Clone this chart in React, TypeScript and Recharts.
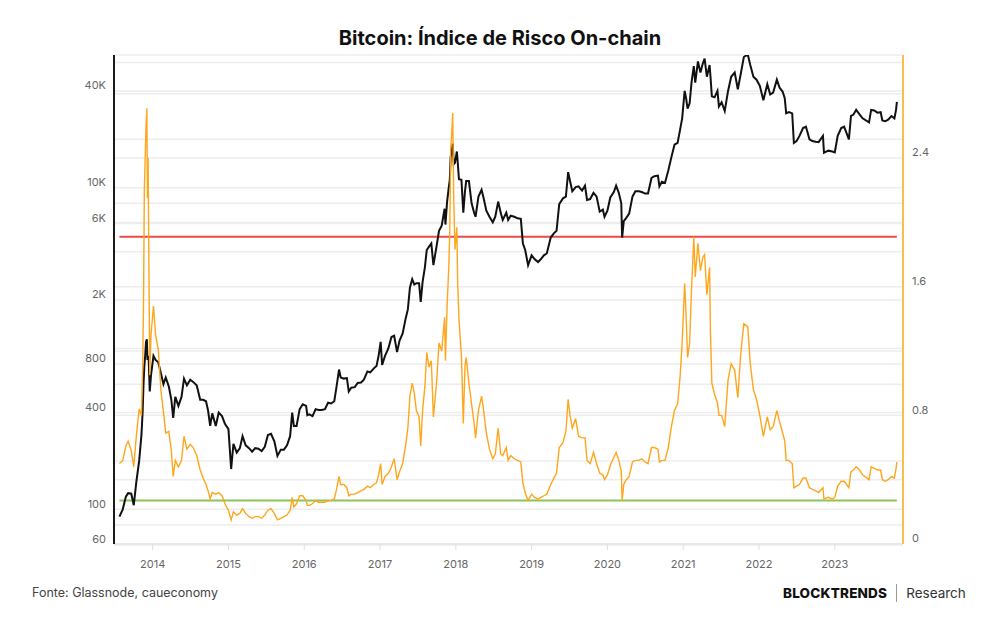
import { LineChart, Line, XAxis, YAxis, CartesianGrid, ReferenceLine } from 'recharts'

// BTC price (USD, log axis) and the on-chain risk index, roughly twice a month
const DATES = [
  '2013-07-25', '2013-08-10', '2013-08-25', '2013-09-05', '2013-09-20', '2013-10-02', '2013-10-15', '2013-10-28',
  '2013-11-08', '2013-11-14', '2013-11-18', '2013-11-22', '2013-11-26', '2013-11-30', '2013-12-04', '2013-12-07',
  '2013-12-10', '2013-12-13', '2013-12-18', '2013-12-24', '2014-01-05', '2014-01-15', '2014-01-28', '2014-02-10',
  '2014-02-22', '2014-03-05', '2014-03-20', '2014-04-01', '2014-04-10', '2014-04-20', '2014-05-05', '2014-05-20',
  '2014-06-01', '2014-06-15', '2014-07-01', '2014-07-15', '2014-08-01', '2014-08-18', '2014-09-01', '2014-09-15',
  '2014-09-25', '2014-10-05', '2014-10-15', '2014-11-01', '2014-11-15', '2014-12-01', '2014-12-15', '2015-01-01',
  '2015-01-14', '2015-01-25', '2015-02-10', '2015-02-25', '2015-03-10', '2015-03-25', '2015-04-10', '2015-04-25',
  '2015-05-10', '2015-05-25', '2015-06-10', '2015-06-25', '2015-07-10', '2015-07-25', '2015-08-10', '2015-08-25',
  '2015-09-10', '2015-09-25', '2015-10-10', '2015-10-25', '2015-11-04', '2015-11-12', '2015-11-25', '2015-12-10',
  '2015-12-25', '2016-01-10', '2016-01-16', '2016-01-25', '2016-02-10', '2016-02-25', '2016-03-10', '2016-03-25',
  '2016-04-10', '2016-04-25', '2016-05-10', '2016-05-25', '2016-06-05', '2016-06-17', '2016-06-25', '2016-07-10',
  '2016-07-25', '2016-08-03', '2016-08-15', '2016-09-01', '2016-09-15', '2016-10-01', '2016-10-15', '2016-11-01',
  '2016-11-15', '2016-12-01', '2016-12-15', '2016-12-25', '2017-01-04', '2017-01-11', '2017-01-25', '2017-02-10',
  '2017-02-25', '2017-03-10', '2017-03-24', '2017-04-05', '2017-04-20', '2017-05-05', '2017-05-15', '2017-05-25',
  '2017-06-05', '2017-06-15', '2017-06-25', '2017-07-08', '2017-07-16', '2017-07-25', '2017-08-05', '2017-08-14',
  '2017-08-25', '2017-09-05', '2017-09-15', '2017-09-30', '2017-10-12', '2017-10-25', '2017-11-08', '2017-11-12',
  '2017-11-20', '2017-11-28', '2017-12-03', '2017-12-07', '2017-12-12', '2017-12-17', '2017-12-22', '2017-12-28',
  '2018-01-06', '2018-01-10', '2018-01-16', '2018-01-28', '2018-02-06', '2018-02-14', '2018-02-20', '2018-03-05',
  '2018-03-18', '2018-03-30', '2018-04-06', '2018-04-20', '2018-05-05', '2018-05-15', '2018-05-28', '2018-06-12',
  '2018-06-28', '2018-07-10', '2018-07-24', '2018-08-05', '2018-08-15', '2018-09-01', '2018-09-10', '2018-09-22',
  '2018-10-10', '2018-10-25', '2018-11-10', '2018-11-20', '2018-12-01', '2018-12-15', '2019-01-01', '2019-01-15',
  '2019-02-01', '2019-02-15', '2019-03-01', '2019-03-15', '2019-04-03', '2019-04-18', '2019-05-01', '2019-05-14',
  '2019-06-01', '2019-06-15', '2019-06-26', '2019-07-05', '2019-07-16', '2019-08-01', '2019-08-15', '2019-09-01',
  '2019-09-15', '2019-09-25', '2019-10-10', '2019-10-26', '2019-11-10', '2019-11-25', '2019-12-10', '2019-12-18',
  '2020-01-01', '2020-01-15', '2020-02-01', '2020-02-12', '2020-02-25', '2020-03-08', '2020-03-12', '2020-03-20',
  '2020-04-01', '2020-04-15', '2020-05-01', '2020-05-15', '2020-06-01', '2020-06-15', '2020-07-01', '2020-07-15',
  '2020-08-01', '2020-08-15', '2020-09-01', '2020-09-08', '2020-09-20', '2020-10-05', '2020-10-21', '2020-11-05',
  '2020-11-20', '2020-12-05', '2020-12-17', '2020-12-27', '2021-01-08', '2021-01-15', '2021-01-22', '2021-02-01',
  '2021-02-10', '2021-02-21', '2021-02-28', '2021-03-13', '2021-03-25', '2021-04-05', '2021-04-14', '2021-04-25',
  '2021-05-08', '2021-05-12', '2021-05-19', '2021-06-01', '2021-06-15', '2021-06-22', '2021-07-05', '2021-07-20',
  '2021-08-05', '2021-08-20', '2021-09-06', '2021-09-21', '2021-10-05', '2021-10-20', '2021-11-08', '2021-11-20',
  '2021-12-05', '2021-12-20', '2022-01-05', '2022-01-22', '2022-02-10', '2022-02-24', '2022-03-10', '2022-03-28',
  '2022-04-10', '2022-04-25', '2022-05-05', '2022-05-12', '2022-05-25', '2022-06-10', '2022-06-18', '2022-07-01',
  '2022-07-15', '2022-08-01', '2022-08-15', '2022-09-01', '2022-09-15', '2022-10-01', '2022-10-15', '2022-11-05',
  '2022-11-10', '2022-12-01', '2022-12-20', '2023-01-01', '2023-01-15', '2023-02-01', '2023-02-15', '2023-03-10',
  '2023-03-20', '2023-04-01', '2023-04-14', '2023-05-01', '2023-05-15', '2023-06-15', '2023-06-25', '2023-07-10',
  '2023-07-25', '2023-08-10', '2023-08-18', '2023-09-01', '2023-09-15', '2023-10-01', '2023-10-15', '2023-10-23',
  '2023-10-27',
]

const PRICE = [
  90, 100, 120, 126, 125, 106, 150, 200,
  290, 410, 600, 780, 900, 1100, 1140, 850,
  900, 850, 540, 680, 900, 850, 820, 700,
  600, 660, 580, 480, 370, 500, 440, 500,
  650, 590, 640, 620, 590, 480, 480, 470,
  410, 330, 395, 330, 400, 380, 340, 315,
  178, 255, 225, 240, 285, 250, 240, 228,
  240, 238, 230, 245, 290, 295, 265, 215,
  235, 235, 250, 285, 400, 330, 330, 420,
  450, 440, 385, 390, 380, 420, 415, 415,
  420, 460, 455, 470, 580, 740, 660, 650,
  655, 540, 570, 575, 610, 615, 640, 720,
  710, 750, 780, 900, 1100, 790, 900, 1000,
  1180, 1200, 950, 1120, 1240, 1550, 1750, 2400,
  2700, 2500, 2550, 2550, 1950, 2600, 3200, 4100,
  4300, 4500, 3300, 4300, 5400, 5800, 7400, 5900,
  8200, 10000, 11200, 15500, 16800, 18800, 14000, 14300,
  16800, 14500, 11300, 11200, 7000, 9500, 11000, 11000,
  8000, 7000, 6600, 8800, 9700, 8600, 7200, 6600,
  6100, 6600, 8200, 7000, 6300, 7000, 6300, 6700,
  6600, 6450, 6400, 4500, 4100, 3300, 3800, 3600,
  3450, 3600, 3800, 3900, 4900, 5200, 5400, 7900,
  8600, 8800, 12500, 11000, 9500, 10100, 10200, 9600,
  10300, 8400, 8500, 9300, 8800, 7100, 7300, 6600,
  7200, 8700, 9400, 10300, 9300, 8000, 4900, 6200,
  6500, 6900, 8800, 9500, 9500, 9400, 9200, 9200,
  11500, 11800, 11900, 10200, 10900, 10700, 12800, 15500,
  18500, 19000, 23000, 27000, 40000, 36000, 31000, 33500,
  45000, 57000, 45000, 61000, 52000, 59000, 63500, 49000,
  58000, 50000, 37000, 36500, 40000, 32000, 34000, 30000,
  40000, 49000, 52000, 41000, 51000, 65000, 67500, 58000,
  49000, 47000, 43000, 35000, 44000, 38000, 39000, 47000,
  42000, 39500, 36000, 29000, 29500, 29000, 19000, 19500,
  21000, 23500, 24000, 20000, 19500, 19300, 19200, 21000,
  16500, 17000, 16800, 16600, 21000, 23500, 24000, 20000,
  28000, 28500, 30500, 28500, 27000, 25500, 30500, 30200,
  29300, 29500, 26200, 25900, 26500, 27900, 27000, 30500,
  34200,
]

const RISK = [
  0.50, 0.52, 0.61, 0.64, 0.58, 0.48, 0.68, 0.84,
  0.80, 1.10, 1.50, 2.20, 2.40, 2.60, 2.71, 2.15,
  2.40, 1.90, 1.05, 1.30, 1.48, 1.30, 1.21, 0.95,
  0.82, 0.69, 0.70, 0.58, 0.42, 0.52, 0.48, 0.52,
  0.67, 0.59, 0.62, 0.60, 0.55, 0.46, 0.41, 0.37,
  0.33, 0.28, 0.32, 0.31, 0.32, 0.30, 0.25, 0.21,
  0.15, 0.20, 0.18, 0.19, 0.22, 0.19, 0.17, 0.16,
  0.17, 0.17, 0.16, 0.18, 0.21, 0.22, 0.19, 0.15,
  0.16, 0.17, 0.18, 0.21, 0.29, 0.23, 0.25, 0.30,
  0.30, 0.27, 0.24, 0.24, 0.25, 0.27, 0.26, 0.26,
  0.26, 0.27, 0.27, 0.28, 0.34, 0.42, 0.37, 0.37,
  0.35, 0.30, 0.31, 0.31, 0.32, 0.33, 0.34, 0.36,
  0.35, 0.37, 0.38, 0.43, 0.50, 0.37, 0.42, 0.44,
  0.48, 0.53, 0.40, 0.45, 0.50, 0.62, 0.72, 0.92,
  1.00, 0.94, 0.83, 0.79, 0.61, 0.83, 0.98, 1.19,
  1.10, 1.14, 0.79, 1.00, 1.25, 1.20, 1.41, 1.14,
  1.48, 1.72, 1.95, 2.45, 2.55, 2.68, 2.14, 1.83,
  1.97, 1.62, 1.40, 1.17, 0.75, 1.10, 1.16, 1.00,
  0.87, 0.75, 0.66, 0.83, 0.92, 0.83, 0.69, 0.59,
  0.53, 0.56, 0.72, 0.56, 0.55, 0.60, 0.52, 0.55,
  0.53, 0.52, 0.51, 0.38, 0.32, 0.27, 0.31, 0.29,
  0.28, 0.29, 0.30, 0.31, 0.37, 0.41, 0.44, 0.60,
  0.63, 0.70, 0.90, 0.80, 0.72, 0.78, 0.67, 0.66,
  0.66, 0.52, 0.50, 0.57, 0.50, 0.44, 0.43, 0.40,
  0.43, 0.49, 0.54, 0.57, 0.52, 0.45, 0.27, 0.37,
  0.40, 0.42, 0.51, 0.52, 0.52, 0.53, 0.51, 0.50,
  0.60, 0.60, 0.59, 0.51, 0.52, 0.52, 0.60, 0.73,
  0.83, 0.87, 1.04, 1.25, 1.62, 1.42, 1.16, 1.25,
  1.58, 1.91, 1.66, 1.87, 1.70, 1.78, 1.80, 1.55,
  1.72, 1.33, 1.00, 0.93, 0.88, 0.80, 0.80, 0.73,
  1.02, 1.12, 1.08, 0.91, 1.18, 1.37, 1.35, 1.12,
  0.96, 0.90, 0.80, 0.67, 0.79, 0.71, 0.73, 0.83,
  0.76, 0.69, 0.64, 0.52, 0.52, 0.50, 0.35, 0.36,
  0.37, 0.41, 0.41, 0.35, 0.34, 0.33, 0.32, 0.35,
  0.28, 0.29, 0.28, 0.29, 0.36, 0.39, 0.39, 0.35,
  0.45, 0.46, 0.48, 0.46, 0.43, 0.40, 0.48, 0.47,
  0.46, 0.46, 0.40, 0.39, 0.40, 0.42, 0.41, 0.47,
  0.51,
]

const YEAR_TICKS = [2014, 2015, 2016, 2017, 2018, 2019, 2020, 2021, 2022, 2023]
const PRICE_GRID = [60, 80, 100, 200, 400, 600, 800, 1000, 2000, 4000, 6000, 8000, 10000, 20000, 40000, 60000]
const PRICE_LABELS = [60, 100, 400, 800, 2000, 6000, 10000, 40000]
const RISK_GRID = [0.4, 0.8, 1.2, 1.6, 2.0, 2.4, 2.8]
const RISK_TICKS = [0, 0.8, 1.6, 2.4]
const RISK_HIGH = 1.91
const RISK_LOW = 0.27

// date string -> fractional year, so the axis can tick on Jan 1st
const toYear = (s: string) => {
  const [y, m, d] = s.split('-').map(Number)
  const start = Date.UTC(y, 0, 1)
  return y + (Date.UTC(y, m - 1, d) - start) / (Date.UTC(y + 1, 0, 1) - start)
}

const data = DATES.map((d, i) => ({ t: toYear(d), price: PRICE[i], risk: RISK[i] }))
const T0 = data[0].t
const T1 = data[data.length - 1].t

const FONT = 'Inter, "Noto Sans", sans-serif'
const TICK_COLOR = '#666'
const GRID = '#ededed'

const fmtPrice = (v: number) => (v >= 1000 ? `${v / 1000}K` : `${v}`)

const PriceTick = ({ x, y, payload }: any) => {
  if (!PRICE_LABELS.includes(payload.value)) return <g />
  return (
    <text x={x} y={y - 5.5} dy="0.35em" textAnchor="end" fontSize={11} fill={TICK_COLOR} fontFamily={FONT}>
      {fmtPrice(payload.value)}
    </text>
  )
}

const RiskTick = ({ x, y, payload }: any) => (
  <text x={x} y={y - 5.5} dy="0.35em" textAnchor="start" fontSize={11} fill={TICK_COLOR} fontFamily={FONT}>
    {payload.value}
  </text>
)

const YearTick = ({ x, y, payload }: any) => (
  <text x={x} y={y} dy="0.71em" textAnchor="middle" fontSize={11} fill={TICK_COLOR} fontFamily={FONT}>
    {payload.value}
  </text>
)

export default function App() {
  return (
    <div style={{ position: 'absolute', left: 0, top: 0, width: 1000, height: 630, background: '#fff', fontFamily: FONT }}>
      <div style={{ position: 'absolute', top: 26, left: 0, width: 1000, textAlign: 'center', fontSize: 20, fontWeight: 700, color: '#111' }}>
        Bitcoin: Índice de Risco On-chain
      </div>

      <LineChart width={1000} height={630} data={data} margin={{ top: 55, right: 37, bottom: 46, left: 54 }}>
        <CartesianGrid yAxisId="price" vertical={false} stroke={GRID} strokeWidth={1.5} />
        {RISK_GRID.map((v) => (
          <ReferenceLine key={v} yAxisId="risk" y={v} stroke={GRID} strokeWidth={1.5} />
        ))}
        <XAxis
          dataKey="t"
          type="number"
          domain={[2013.49, 2023.9]}
          ticks={YEAR_TICKS}
          allowDataOverflow
          height={40}
          axisLine={{ stroke: '#e6e6e6', strokeWidth: 1.5 }}
          tickLine={{ stroke: '#e0e0e0' }}
          tickSize={6}
          tickMargin={10}
          tick={<YearTick />}
        />
        <YAxis
          yAxisId="price"
          scale="log"
          domain={[60.85, 66900]}
          ticks={PRICE_GRID}
          interval={0}
          allowDataOverflow
          width={60}
          axisLine={{ stroke: '#1a1a1a', strokeWidth: 2 }}
          tickLine={false}
          tickSize={0}
          tickMargin={8}
          tick={<PriceTick />}
        />
        <YAxis
          yAxisId="risk"
          orientation="right"
          domain={[0, 3.041]}
          ticks={RISK_TICKS}
          interval={0}
          allowDataOverflow
          width={60}
          axisLine={{ stroke: '#fbbd4f', strokeWidth: 2 }}
          tickLine={false}
          tickSize={0}
          tickMargin={9}
          tick={<RiskTick />}
        />
        <ReferenceLine yAxisId="risk" segment={[{ x: T0, y: RISK_HIGH }, { x: T1, y: RISK_HIGH }]} stroke="#ea4a4a" strokeWidth={2} />
        <ReferenceLine yAxisId="risk" segment={[{ x: T0, y: RISK_LOW }, { x: T1, y: RISK_LOW }]} stroke="#8cc45a" strokeWidth={2} />
        <Line yAxisId="price" dataKey="price" stroke="#111" strokeWidth={2} dot={false} isAnimationActive={false} />
        <Line yAxisId="risk" dataKey="risk" stroke="#ffa61c" strokeWidth={1.4} dot={false} isAnimationActive={false} />
      </LineChart>

      <div style={{ position: 'absolute', top: 585, left: 32, fontSize: 12.5, color: '#444' }}>
        Fonte: Glassnode, caueconomy
      </div>
      <div style={{ position: 'absolute', top: 584, left: 783, display: 'flex', alignItems: 'center', fontSize: 13.5, color: '#111' }}>
        <span style={{ fontWeight: 800, letterSpacing: 0.2 }}>BLOCKTRENDS</span>
        <span style={{ display: 'inline-block', width: 1, height: 18, background: '#999', margin: '0 9px' }} />
        <span style={{ fontWeight: 400, color: '#333' }}>Research</span>
      </div>
    </div>
  )
}
